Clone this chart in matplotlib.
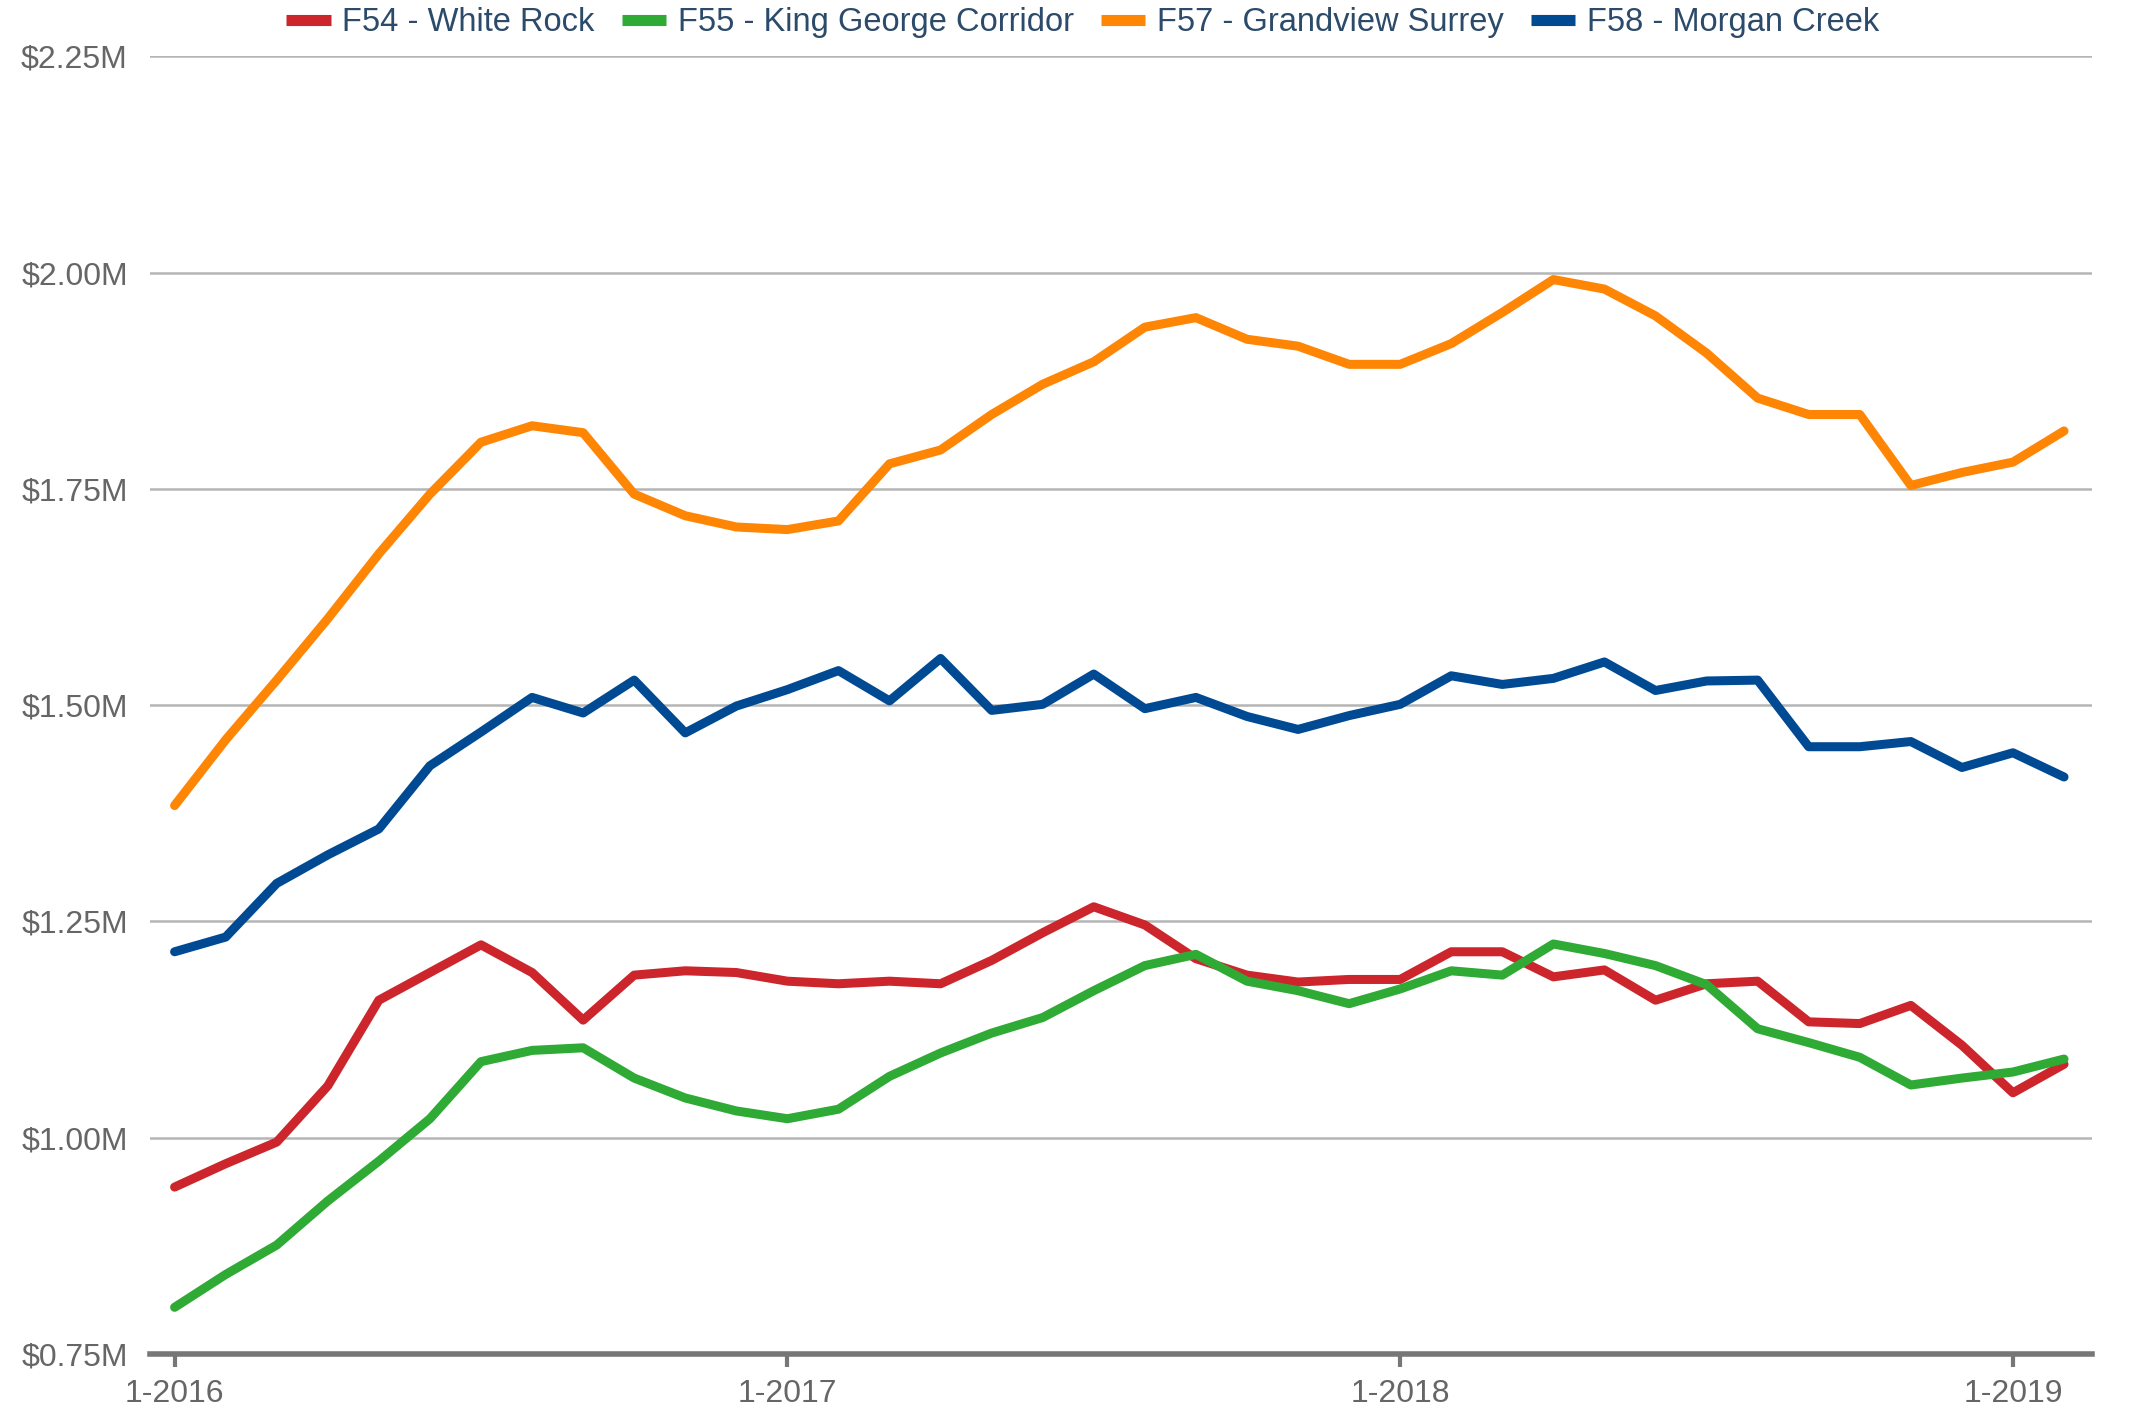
import numpy as np
import matplotlib.pyplot as plt

plt.rcParams['font.family'] = ['Liberation Sans', 'DejaVu Sans']

# monthly values, 1-2016 .. 2-2019 (in $M)
months = np.arange(38)
f54_white_rock = [0.943, 0.970, 0.995, 1.060, 1.159, 1.191, 1.223, 1.191, 1.136, 1.188,
                  1.193, 1.191, 1.181, 1.178, 1.181, 1.178, 1.205, 1.237, 1.267, 1.246,
                  1.207, 1.188, 1.180, 1.183, 1.183, 1.215, 1.215, 1.186, 1.194, 1.159,
                  1.178, 1.181, 1.134, 1.132, 1.153, 1.107, 1.052, 1.085]
f55_king_george = [0.804, 0.842, 0.876, 0.927, 0.973, 1.022, 1.088, 1.101, 1.104, 1.069,
                   1.046, 1.031, 1.022, 1.033, 1.071, 1.098, 1.121, 1.139, 1.170, 1.199,
                   1.212, 1.181, 1.170, 1.155, 1.172, 1.193, 1.188, 1.224, 1.213, 1.199,
                   1.177, 1.126, 1.110, 1.093, 1.061, 1.069, 1.076, 1.091]
f57_grandview = [1.384, 1.460, 1.529, 1.600, 1.675, 1.744, 1.804, 1.823, 1.815, 1.744,
                 1.719, 1.706, 1.703, 1.713, 1.779, 1.795, 1.836, 1.871, 1.897, 1.937,
                 1.948, 1.923, 1.915, 1.894, 1.894, 1.918, 1.954, 1.992, 1.981, 1.950,
                 1.907, 1.855, 1.836, 1.836, 1.754, 1.769, 1.781, 1.817]
f58_morgan_creek = [1.215, 1.232, 1.294, 1.327, 1.357, 1.430, 1.469, 1.509, 1.491, 1.529,
                    1.468, 1.499, 1.518, 1.540, 1.505, 1.554, 1.494, 1.501, 1.536, 1.496,
                    1.509, 1.487, 1.472, 1.488, 1.501, 1.534, 1.524, 1.531, 1.550, 1.517,
                    1.528, 1.529, 1.452, 1.452, 1.458, 1.428, 1.445, 1.417]

series_names = ['F54 - White Rock', 'F55 - King George Corridor',
                'F57 - Grandview Surrey', 'F58 - Morgan Creek']
series_colors = ['#cc252b', '#2eaa35', '#ff8505', '#004a94']
xtick_pos = [0, 12, 24, 36]
xtick_labels = ['1-2016', '1-2017', '1-2018', '1-2019']
ytick_vals = [0.75, 1.00, 1.25, 1.50, 1.75, 2.00, 2.25]

fig = plt.figure(figsize=(21.44, 14.09), dpi=100)
ax = fig.add_axes([0.070, 0.039, 0.9058, 0.921])

lines = []
for vals, col in zip([f54_white_rock, f55_king_george, f57_grandview, f58_morgan_creek],
                     series_colors):
    ln, = ax.plot(months, vals, color=col, lw=6.5, solid_capstyle='round',
                  solid_joinstyle='round', zorder=3)
    lines.append(ln)

ax.set_xlim(-0.48, 37.55)
ax.set_ylim(0.75, 2.25)
ax.set_yticks(ytick_vals)
ax.set_yticklabels(['$%.2fM' % v for v in ytick_vals])
ax.set_xticks(xtick_pos)
ax.set_xticklabels(xtick_labels)

ax.yaxis.grid(True, color='#b5b5b5', lw=1.8)
ax.set_axisbelow(True)
for s in ['top', 'right', 'left']:
    ax.spines[s].set_visible(False)
ax.spines['bottom'].set_color('#777777')
ax.spines['bottom'].set_linewidth(4)
ax.spines['bottom'].set_zorder(4)

ax.tick_params(axis='y', length=0, pad=16, labelsize=23, labelcolor='#666666')
ax.tick_params(axis='x', length=9, width=3, color='#777777', pad=9,
               labelsize=23, labelcolor='#666666')

fig.legend(lines, series_names, loc='center', bbox_to_anchor=(0.505, 0.984), ncol=4,
           frameon=False, fontsize=23.5, labelcolor='#2c4a6a', handlelength=1.35,
           handletextpad=0.35, columnspacing=0.85, borderpad=0, borderaxespad=0)
for h in fig.legends[0].legend_handles:
    h.set_linewidth(8)
    h.set_solid_capstyle('butt')

fig.savefig('out.png', dpi=100)
